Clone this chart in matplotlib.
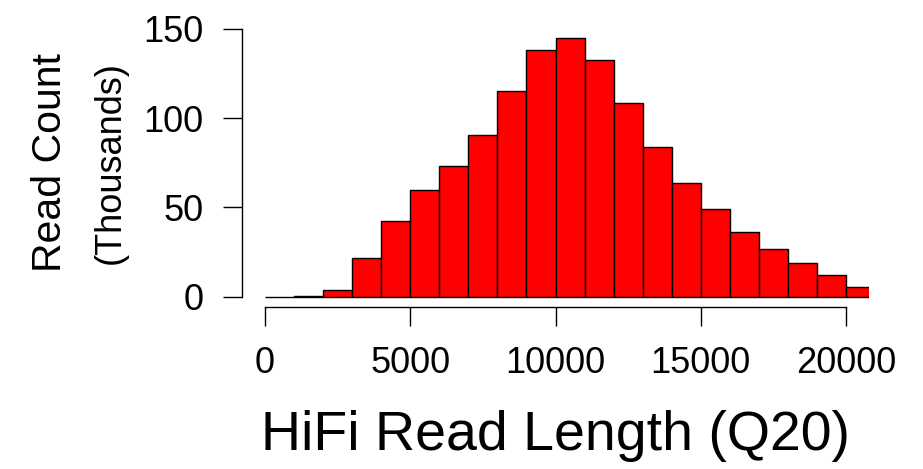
import matplotlib
matplotlib.use("Agg")
import matplotlib.pyplot as plt

plt.rcParams['font.family'] = ['Liberation Sans', 'DejaVu Sans']

# histogram bins (read length, bp) and counts (thousands)
bin_width = 1000
bin_left = [0, 1000, 2000, 3000, 4000, 5000, 6000, 7000, 8000, 9000, 10000,
            11000, 12000, 13000, 14000, 15000, 16000, 17000, 18000, 19000, 20000]
counts = [0.05, 0.4, 3.7, 21.6, 42.2, 59.5, 73.1, 90.3, 115.1, 138.2, 144.8,
          132.6, 108.6, 84.0, 63.8, 49.3, 36.2, 26.7, 19.1, 11.9, 5.4]

x_ticks = [0, 5000, 10000, 15000, 20000]
y_ticks = [0, 50, 100, 150]

fig = plt.figure(figsize=(9.23, 4.69), dpi=100)
ax = fig.add_axes([0.262, 0.3446, 0.6797, 0.617])

ax.bar(bin_left, counts, width=bin_width, align='edge',
       color='#ff0000', edgecolor='black', linewidth=1.0)

# R-style 4% padding around the ranges
ax.set_xlim(-800, 20800)
ax.set_ylim(-6, 156)

for s in ['top', 'right']:
    ax.spines[s].set_visible(False)
ax.spines['left'].set_bounds(0, 150)
ax.spines['bottom'].set_bounds(0, 20000)
ax.spines['left'].set_linewidth(1.0)
ax.spines['bottom'].set_linewidth(1.0)

ax.set_xticks(x_ticks)
ax.set_yticks(y_ticks)
ax.set_xticklabels([str(v) for v in x_ticks])
ax.set_yticklabels([str(v) for v in y_ticks])
ax.tick_params(axis='both', length=13.7, width=1.0, labelsize=26)
ax.tick_params(axis='x', pad=14)
ax.tick_params(axis='y', pad=14)

ax.set_xlabel("HiFi Read Length (Q20)", fontsize=40, labelpad=21)
ax.text(-0.306, 0.5, "Read Count", rotation=90, fontsize=29.5,
        ha='center', va='center', transform=ax.transAxes)
ax.text(-0.210, 0.5, "(Thousands)", rotation=90, fontsize=26,
        ha='center', va='center', transform=ax.transAxes)

fig.savefig("out.png", dpi=100)
